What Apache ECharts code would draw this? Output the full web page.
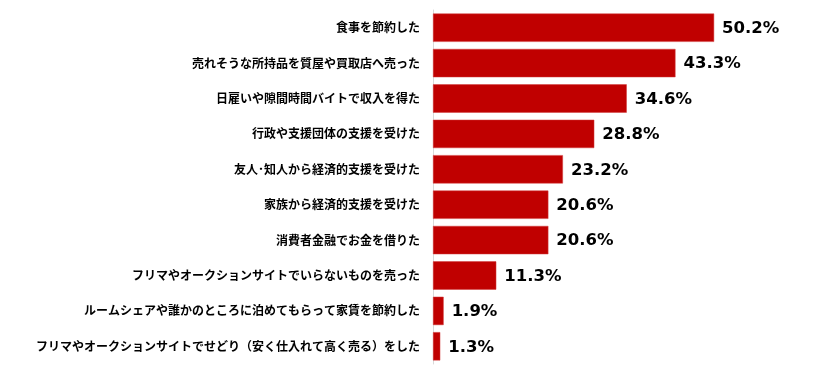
<!DOCTYPE html>
<html><head><meta charset="utf-8">
<script src="https://cdn.jsdelivr.net/npm/echarts@6/dist/echarts.min.js"></script>
<style>html,body{margin:0;padding:0;background:#fff}#c{width:822px;height:373px}</style>
</head><body><div id="c"></div>
<script>
const categories = [
  "食事を節約した",
  "売れそうな所持品を質屋や買取店へ売った",
  "日雇いや隙間時間バイトで収入を得た",
  "行政や支援団体の支援を受けた",
  "友人･知人から経済的支援を受けた",
  "家族から経済的支援を受けた",
  "消費者金融でお金を借りた",
  "フリマやオークションサイトでいらないものを売った",
  "ルームシェアや誰かのところに泊めてもらって家賃を節約した",
  "フリマやオークションサイトでせどり（安く仕入れて高く売る）をした"
];
const values = [50.2, 43.3, 34.6, 28.8, 23.2, 20.6, 20.6, 11.3, 1.9, 1.3];

const chart = echarts.init(document.getElementById('c'));
chart.setOption({
  animation: false,
  grid: {left: 433, right: 53, top: 10, bottom: 9, containLabel: false},
  xAxis: {type: 'value', min: 0, max: 60, show: false},
  yAxis: {
    type: 'category', data: categories, inverse: true,
    axisLine: {show: true, lineStyle: {color: '#d9d9d9', width: 1}},
    axisTick: {show: false},
    axisLabel: {margin: 13, fontSize: 12, fontWeight: 'bold', color: '#000',
      fontFamily: '"Noto Sans CJK JP", sans-serif'}
  },
  series: [{
    type: 'bar', data: values, barCategoryGap: '20%',
    itemStyle: {color: '#C00000', borderColor: '#d23a3a', borderWidth: 0.5},
    label: {show: true, position: 'right', distance: 8, formatter: p => p.value.toFixed(1) + '%',
      fontSize: 16.5, fontWeight: 'bold', color: '#000', fontFamily: '"DejaVu Sans", sans-serif',
      offset: [0, 1]}
  }]
});
</script></body></html>
